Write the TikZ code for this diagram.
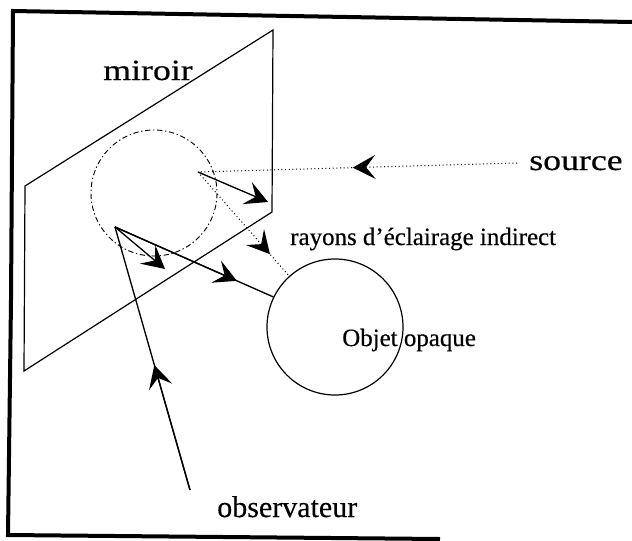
\documentclass[tikz,border=0pt]{standalone}
\usepackage{fontspec}
\setmainfont[FakeBold=0.4]{Liberation Serif}
\usetikzlibrary{arrows.meta,calc}
\tikzset{
  x=0.75pt,y=-0.75pt,
  frameline/.style={line width=3pt,black},
  mirrorline/.style={line width=0.9pt,black},
  ray/.style={line width=1pt,black},
  dotray/.style={line width=0.75pt,black,dotted},
  head/.style={-{Stealth[length=17pt,width=18pt,inset=7pt]}},
  tiponly/.style={line width=0.75pt,dash pattern=on 0pt off 200pt},
  wide/.style={font=\fontsize{22}{24}\selectfont,inner sep=0pt},
  tall/.style={font=\fontsize{18.7}{20}\selectfont,inner sep=0pt}
}
\begin{document}
\begin{tikzpicture}
\useasboundingbox (0,0) rectangle (632,540);
\coordinate (ftr) at (632,22);
\coordinate (ftm) at (290,16);
\coordinate (ftl) at (13,11);
\coordinate (fml) at (11,300);
\coordinate (fbl) at (8,535);
\coordinate (fbr) at (440,539);
\draw[frameline,line join=miter] (ftr) -- (ftm) -- (ftl) -- (fml) -- (fbl) -- (fbr);
\coordinate (m1) at (25,186);
\coordinate (m2) at (273,30);
\coordinate (m3) at (272,212);
\coordinate (m4) at (24,371);
\draw[mirrorline] (m1) -- (m2) -- (m3) -- (m4) -- cycle;
\coordinate (cc) at (154,193);
\draw[line width=0.7pt,dash pattern=on 4pt off 2pt on 1pt off 2pt] (cc) circle [radius=63];
\node[circle,draw,mirrorline,minimum size=102pt,inner sep=0pt] (obj) at (335,327) {};
\node[wide,anchor=base west] (miroir) at (103,80) {\scalebox{1.22}[1]{miroir}};
\node[wide,anchor=base west] (source) at (529,170) {\scalebox{1.22}[1]{source}};
\node[tall,anchor=base west] (rayons) at (290,245) {rayons d'éclairage indirect};
\node[tall,anchor=base west] (objet) at (342,346) {Objet opaque};
\node[wide,anchor=base west,font=\fontsize{22.5}{24}\selectfont] (obs) at (217,517) {observateur};
\coordinate (s) at (198,172);
\coordinate (o) at (115,227);
\coordinate (srcend) at (517,163);
\coordinate (obsend) at (190,490);
\coordinate (a1) at (268,202);
\coordinate (a2) at (165,269);
% rays: each line drawn once, arrowhead set on the same line
\draw[dotray] (srcend) -- (s);
\draw[tiponly,head] (srcend) -- ($(srcend)!0.515!(s)$);
\draw[ray,head] (s) -- (a1);
\draw[dotray] (s) -- (obj.132.7);
\draw[tiponly,head] (s) -- ($(s)!0.79!(obj.132.7)$);
\draw[ray,head] (o) -- (a2);
\draw[ray] (o) -- (obj.154.2);
\draw[ray,head] (o) -- ($(o)!0.77!(obj.154.2)$);
\draw[ray] (obsend) -- (o);
\draw[ray,head] (obsend) -- ($(obsend)!0.475!(o)$);
\end{tikzpicture}
\end{document}
